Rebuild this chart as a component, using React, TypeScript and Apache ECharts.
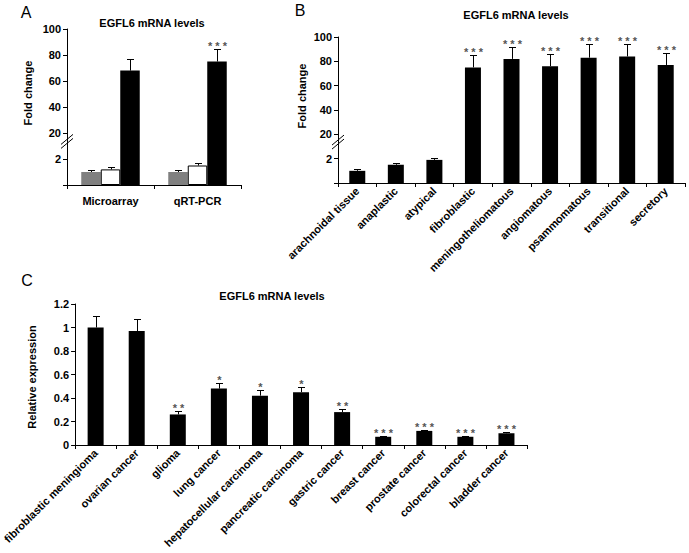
import React, { useEffect, useRef } from "react";
import * as echarts from "echarts";

const FONT = '"Liberation Sans", Arial, Helvetica, sans-serif';

// ---------- Panel A ----------
const catsA = ["Microarray", "qRT-PCR"];
const grayA = [1.0, 1.0];
const grayErrA = [0.12, 0.13];
const whiteA = [1.2, 1.5];
const whiteErrA = [0.15, 0.2];
const blackA = [68, 75];
const blackErrA = [9, 10];
const starsGrayA = ["", ""];
const starsWhiteA = ["", ""];
const starsBlackA = ["", "***"];

// ---------- Panel B ----------
const catsB = [
  "arachnoidal tissue",
  "anaplastic",
  "atypical",
  "fibroblastic",
  "meningotheliomatous",
  "angiomatous",
  "psammomatous",
  "transitional",
  "secretory",
];
const valsB = [1.0, 1.5, 1.9, 75, 82, 76, 83, 84, 77];
const errB = [0.12, 0.18, 0.25, 10, 10, 10, 11, 10, 10];
const starsB = ["", "", "", "***", "***", "***", "***", "***", "***"];

// tick labels of the broken axis (A and B), one per display step
const brokenTickLabels = ["", "2", "20", "40", "60", "80", "100"];

// ---------- Panel C ----------
const catsC = [
  "fibroblastic meningioma",
  "ovarian cancer",
  "glioma",
  "lung cancer",
  "hepatocellular carcinoma",
  "pancreatic carcinoma",
  "gastric cancer",
  "breast cancer",
  "prostate cancer",
  "colorectal cancer",
  "bladder cancer",
];
const valsC = [1.0, 0.97, 0.26, 0.48, 0.42, 0.45, 0.28, 0.07, 0.12, 0.07, 0.1];
const errC = [0.1, 0.1, 0.03, 0.05, 0.05, 0.04, 0.03, 0.01, 0.01, 0.01, 0.01];
const starsC = ["", "", "**", "*", "*", "*", "**", "***", "***", "***", "***"];

// broken-axis scale: 0..2 linear, 2..20 compressed, 20..100 at 10 per step
const brk = (v: number) =>
  v <= 2 ? v : v <= 20 ? 2 + (v - 2) / 9 : 4 + (v - 20) / 10;
const ident = (v: number) => v;

const GA = { left: 67, top: 29, width: 174, height: 156 };
const GB = { left: 338, top: 37, width: 347, height: 146 };
const GC = { left: 69, top: 304, width: 458, height: 141 };

const axisLineStyle = { lineStyle: { color: "#000", width: 1 } };
const labelStyle = {
  color: "#000",
  fontWeight: "bold" as const,
  fontSize: 11,
  fontFamily: FONT,
};

function errSeries(
  xi: number,
  vals: number[],
  errs: number[],
  stars: string[],
  tf: (v: number) => number,
  offset: number
) {
  return {
    type: "custom",
    xAxisIndex: xi,
    yAxisIndex: xi,
    z: 5,
    clip: false,
    data: vals.map((v, i) => [i, tf(v), tf(v + errs[i])]),
    encode: { x: 0, y: [1, 2] },
    renderItem: (params: any, api: any) => {
      const i = api.value(0);
      const base = api.coord([i, api.value(1)]);
      const top = api.coord([i, api.value(2)]);
      const x = Math.round(base[0] + offset) + 0.5;
      const ty = Math.round(top[1]) + 0.5;
      const children: any[] = [
        {
          type: "line",
          shape: { x1: x, y1: base[1], x2: x, y2: ty },
          style: { stroke: "#000", lineWidth: 1 },
        },
        {
          type: "line",
          shape: { x1: x - 3.5, y1: ty, x2: x + 3.5, y2: ty },
          style: { stroke: "#000", lineWidth: 1 },
        },
      ];
      const s = stars[params.dataIndex];
      if (s) {
        children.push({
          type: "text",
          x,
          y: ty - 4,
          style: {
            text: s.split("").join(" "),
            fill: "#555",
            fontSize: 11,
            fontWeight: "bold",
            fontFamily: FONT,
            align: "center",
            verticalAlign: "middle",
          },
        });
      }
      return { type: "group", children };
    },
  };
}

function catAxis(gi: number, cats: string[], rotate: number, margin: number) {
  return {
    type: "category",
    gridIndex: gi,
    data: cats,
    axisLine: axisLineStyle,
    axisTick: { show: true, length: 4, lineStyle: { color: "#000" } },
    axisLabel: { ...labelStyle, rotate, margin, interval: 0 },
    splitLine: { show: false },
  };
}

function brokenYAxis(gi: number) {
  return {
    type: "value",
    gridIndex: gi,
    min: 0,
    max: 12,
    interval: 2,
    axisLine: { show: true, ...axisLineStyle },
    axisTick: { show: true, length: 4, lineStyle: { color: "#000" } },
    axisLabel: {
      ...labelStyle,
      margin: 6,
      formatter: (v: number) => brokenTickLabels[Math.round(v / 2)] ?? "",
    },
    splitLine: { show: false },
  };
}

function breakMarks(g: { left: number; top: number; height: number }) {
  const y = g.top + g.height * (1 - 3.2 / 12);
  const x = g.left;
  return [0, 4].map((d) => ({
    type: "line",
    shape: { x1: x - 6, y1: y + 5 - d, x2: x + 6, y2: y - 5 - d },
    style: { stroke: "#000", lineWidth: 1 },
    z: 10,
  }));
}

function txt(
  text: string,
  x: number,
  y: number,
  size: number,
  bold: boolean,
  rotation = 0
) {
  return {
    type: "text",
    x,
    y,
    rotation,
    z: 10,
    style: {
      text,
      fill: "#000",
      fontSize: size,
      fontWeight: bold ? "bold" : "normal",
      fontFamily: FONT,
      align: "center",
      verticalAlign: "middle",
    },
  };
}

export default function App() {
  const ref = useRef<HTMLDivElement>(null);
  useEffect(() => {
    if (!ref.current) return;
    const chart = echarts.init(ref.current, undefined, { renderer: "svg" });
    const bw = 19.5;
    chart.setOption({
      animation: false,
      backgroundColor: "#fff",
      grid: [
        { ...GA, containLabel: false },
        { ...GB, containLabel: false },
        { ...GC, containLabel: false },
      ],
      xAxis: [
        catAxis(0, catsA, 0, 10),
        catAxis(1, catsB, 45, 6),
        catAxis(2, catsC, 45, 6),
      ],
      yAxis: [
        brokenYAxis(0),
        brokenYAxis(1),
        {
          type: "value",
          gridIndex: 2,
          min: 0,
          max: 1.2,
          interval: 0.2,
          axisLine: { show: true, ...axisLineStyle },
          axisTick: { show: true, length: 4, lineStyle: { color: "#000" } },
          axisLabel: {
            ...labelStyle,
            margin: 6,
            formatter: (v: number) => String(+v.toFixed(1)),
          },
          splitLine: { show: false },
        },
      ],
      series: [
        {
          type: "bar",
          xAxisIndex: 0,
          yAxisIndex: 0,
          data: grayA.map(brk),
          barWidth: bw,
          barGap: "0%",
          itemStyle: { color: "#808080" },
        },
        {
          type: "bar",
          xAxisIndex: 0,
          yAxisIndex: 0,
          data: whiteA.map(brk),
          barWidth: bw,
          barGap: "0%",
          itemStyle: { color: "#fff", borderColor: "#000", borderWidth: 1 },
        },
        {
          type: "bar",
          xAxisIndex: 0,
          yAxisIndex: 0,
          data: blackA.map(brk),
          barWidth: bw,
          barGap: "0%",
          itemStyle: { color: "#000" },
        },
        errSeries(0, grayA, grayErrA, starsGrayA, brk, -bw),
        errSeries(0, whiteA, whiteErrA, starsWhiteA, brk, 0),
        errSeries(0, blackA, blackErrA, starsBlackA, brk, bw),
        {
          type: "bar",
          xAxisIndex: 1,
          yAxisIndex: 1,
          data: valsB.map(brk),
          barWidth: 16,
          itemStyle: { color: "#000" },
        },
        errSeries(1, valsB, errB, starsB, brk, 0),
        {
          type: "bar",
          xAxisIndex: 2,
          yAxisIndex: 2,
          data: valsC,
          barWidth: 16,
          itemStyle: { color: "#000" },
        },
        errSeries(2, valsC, errC, starsC, ident, 0),
      ],
      graphic: [
        txt("A", 26, 12, 16, false),
        txt("B", 300, 10, 16, false),
        txt("C", 27, 280, 16, false),
        txt("EGFL6 mRNA levels", 152, 23, 11, true),
        txt("EGFL6 mRNA levels", 516, 15, 11, true),
        txt("EGFL6 mRNA levels", 272, 296, 11, true),
        txt("Fold change", 28, 93, 11, true, Math.PI / 2),
        txt("Fold change", 302, 96, 11, true, Math.PI / 2),
        txt("Relative expression", 32, 377, 11, true, Math.PI / 2),
        ...breakMarks(GA),
        ...breakMarks(GB),
      ],
    });
    return () => chart.dispose();
  }, []);
  return (
    <div
      ref={ref}
      style={{ position: "absolute", left: 0, top: 0, width: 689, height: 553 }}
    />
  );
}
